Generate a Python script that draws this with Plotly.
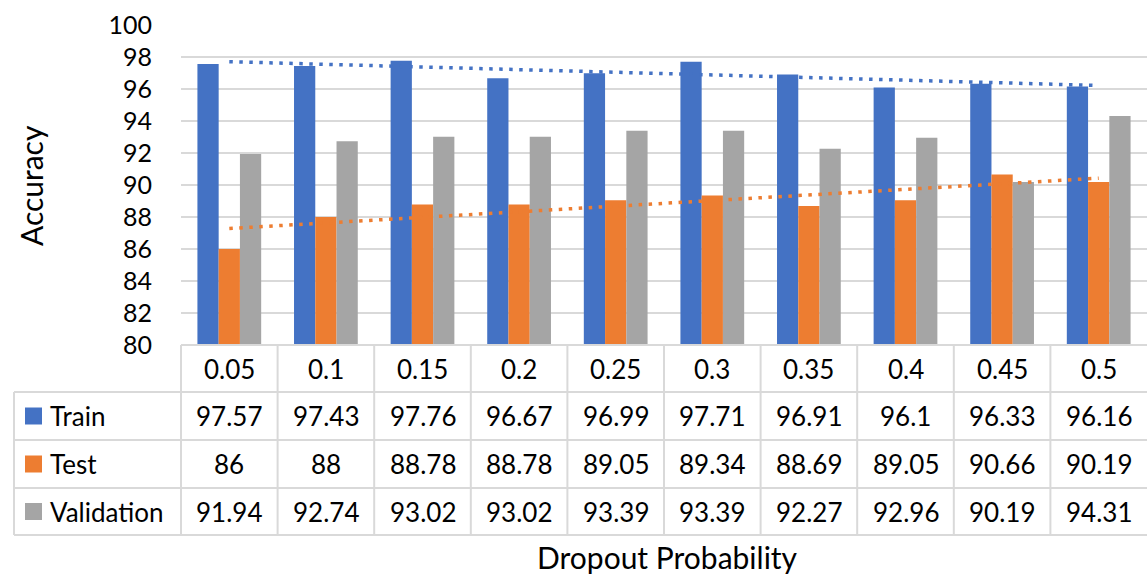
import numpy as np
import plotly.graph_objects as go

# Data
categories = ["0.05", "0.1", "0.15", "0.2", "0.25", "0.3", "0.35", "0.4", "0.45", "0.5"]
train = [97.57, 97.43, 97.76, 96.67, 96.99, 97.71, 96.91, 96.1, 96.33, 96.16]
test = [86, 88, 88.78, 88.78, 89.05, 89.34, 88.69, 89.05, 90.66, 90.19]
validation = [91.94, 92.74, 93.02, 93.02, 93.39, 93.39, 92.27, 92.96, 90.19, 94.31]
series_names = ["Train", "Test", "Validation"]
y_ticks = list(range(80, 101, 2))

COLORS = {"Train": "#4472C4", "Test": "#ED7D31", "Validation": "#A5A5A5"}
GRID = "#D9D9D9"
FONT = "Lato, Noto Sans, sans-serif"
FS_TICK = 25
FS_TABLE = 26
FS_TITLE = 30

W, H = 1147, 578
L, T, B = 181, 25, 233
PW, PH = W - L, H - T - B
AXIS_Y = H - B  # pixel row of the category axis


def px(x):
    return (x - L) / PW


def py(y):
    return (AXIS_Y - y) / PH


fig = go.Figure()
series = {"Train": train, "Test": test, "Validation": validation}
for name in series_names:
    fig.add_trace(go.Bar(x=categories, y=series[name], name=name,
                         marker=dict(color=COLORS[name], line=dict(width=0)),
                         showlegend=False))

# Linear trendlines for Train and Test
idx = np.arange(1, len(categories) + 1)
for name in ["Train", "Test"]:
    slope, icpt = np.polyfit(idx, series[name], 1)
    fig.add_trace(go.Scatter(x=categories, y=slope * idx + icpt, mode="lines",
                             line=dict(color=COLORS[name], width=3.5, dash="3.5px,6.5px"),
                             showlegend=False, hoverinfo="skip"))

shapes, annotations = [], []
line = dict(color=GRID, width=2)

# Data table grid
row_edges = [392, 440, 488, 535]
shapes.append(dict(type="line", xref="paper", yref="paper", x0=0, x1=1,
                   y0=py(AXIS_Y), y1=py(AXIS_Y), line=line))
for ry in row_edges:
    shapes.append(dict(type="line", xref="paper", yref="paper", x0=px(14), x1=1,
                       y0=py(ry), y1=py(ry), line=line))
shapes.append(dict(type="line", xref="paper", yref="paper", x0=px(14), x1=px(14),
                   y0=py(row_edges[0]), y1=py(row_edges[-1]), line=line))
n = len(categories)
for k in range(n):
    shapes.append(dict(type="line", xref="paper", yref="paper", x0=k / n, x1=k / n,
                       y0=py(AXIS_Y), y1=py(row_edges[-1]), line=line))

# Header row with category labels
hdr_y = (AXIS_Y + row_edges[0]) / 2
for k, c in enumerate(categories):
    annotations.append(dict(x=(k + 0.5) / n, y=py(hdr_y), xref="paper", yref="paper",
                            text=c, showarrow=False, font=dict(size=FS_TABLE, color="#000"),
                            xanchor="center", yanchor="middle"))

# Series rows
for r, name in enumerate(series_names):
    cy = (row_edges[r] + row_edges[r + 1]) / 2
    shapes.append(dict(type="rect", xref="paper", yref="paper",
                       x0=px(25), x1=px(42), y0=py(cy - 8.5), y1=py(cy + 8.5),
                       fillcolor=COLORS[name], line=dict(width=0)))
    annotations.append(dict(x=px(48), y=py(cy), xref="paper", yref="paper", text=name,
                            showarrow=False, font=dict(size=FS_TABLE, color="#000"),
                            xanchor="left", yanchor="middle"))
    for k, v in enumerate(series[name]):
        annotations.append(dict(x=(k + 0.5) / n, y=py(cy), xref="paper", yref="paper",
                                text=f"{v:g}", showarrow=False,
                                font=dict(size=FS_TABLE, color="#000"),
                                xanchor="center", yanchor="middle"))

# Axis titles
annotations.append(dict(x=px(667), y=py(557), xref="paper", yref="paper",
                        text="Dropout Probability", showarrow=False,
                        font=dict(size=FS_TITLE, color="#000"),
                        xanchor="center", yanchor="middle"))
annotations.append(dict(x=px(31), y=py(186), xref="paper", yref="paper", text="Accuracy",
                        textangle=-90, showarrow=False,
                        font=dict(size=FS_TITLE, color="#000"),
                        xanchor="center", yanchor="middle"))

fig.update_layout(
    width=W, height=H,
    margin=dict(l=L, r=0, t=T, b=B),
    paper_bgcolor="white", plot_bgcolor="white",
    font=dict(family=FONT, size=FS_TICK, color="#000"),
    barmode="group", bargap=0.34, bargroupgap=0,
    shapes=shapes, annotations=annotations,
    xaxis=dict(showticklabels=False, showgrid=False, showline=False, zeroline=False,
               ticks=""),
    yaxis=dict(range=[80, 100], tickvals=y_ticks, showgrid=True, gridcolor=GRID,
               gridwidth=2, showline=False, zeroline=False, ticks="",
               ticklabelstandoff=28, tickfont=dict(size=FS_TICK, color="#000")),
)

fig.write_html("out.html")
